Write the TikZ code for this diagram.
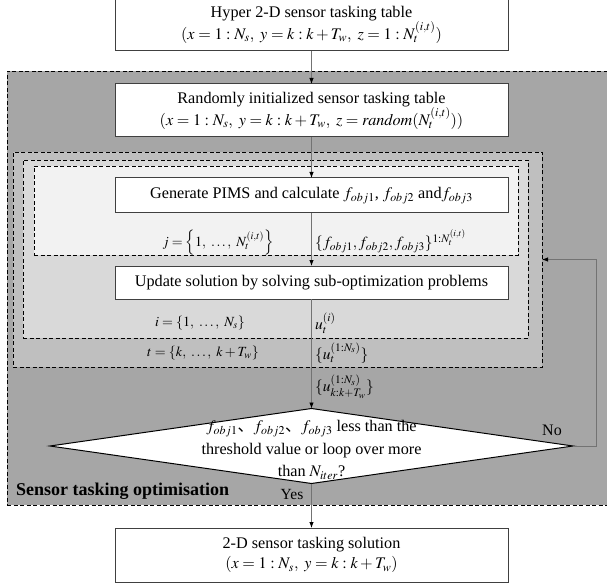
\documentclass[tikz,border=0pt]{standalone}
\usepackage{mathptmx}
\usepackage[no-math]{fontspec}
\setmainfont{Liberation Serif}
\newfontfamily\cjk{Noto Sans CJK SC}
\usetikzlibrary{arrows.meta,shapes.geometric}
\begin{document}
\begin{tikzpicture}[x=1pt,y=-1pt,
  box/.style={draw=black!75, line width=1pt, fill=white, inner sep=0pt, outer sep=0pt,
    align=center, minimum width=393pt, font=\fontsize{16.2}{20}\selectfont},
  region/.style={draw=black, dashed, dash pattern=on 4pt off 2.5pt, line width=0.9pt, inner sep=0pt, outer sep=0pt},
  conn/.style={draw=black!55, line width=0.9pt, -{Latex[length=6pt,width=4.5pt,color=black]}},
  lbl/.style={font=\fontsize{14}{17}\selectfont, inner sep=0pt},
  rlbl/.style={font=\fontsize{15.5}{18}\selectfont, inner sep=0pt, anchor=west},
  dia/.style={diamond, draw=black, line width=1pt, fill=white, inner sep=0pt, outer sep=0pt,
    minimum width=523pt, minimum height=75pt}
]
\useasboundingbox (0,0) rectangle (607,585);
% regions
\node[region, fill=black!35, minimum width=613pt, minimum height=434pt] (outer) at (313.5,288) {};
\node[region, fill=black!25, minimum width=529pt, minimum height=215pt] (tR) at (277.5,259.5) {};
\node[region, fill=black!15, minimum width=505pt, minimum height=178pt] (iR) at (275.5,249) {};
\node[region, fill=black!5, minimum width=484pt, minimum height=89pt] (jR) at (276,210.5) {};
% boxes
\node[box, minimum height=53pt] (hyper) at (311.5,24.5) {Hyper 2-D sensor tasking table\\ $(x=1:N_s,\ y=k:k+T_w,\ z=1:N_t^{(i,t)})$};
\node[box, minimum height=53pt] (rand) at (311.5,110.5) {Randomly initialized sensor tasking table\\ $(x=1:N_s,\ y=k:k+T_w,\ z=\mathit{random}(N_t^{(i,t)}))$};
\node[box, minimum height=35pt] (gen) at (311.5,195.5) {Generate PIMS and calculate $f_{obj1}$, $f_{obj2}$ and$f_{obj3}$};
\node[box, minimum height=33pt] (upd) at (311.5,282.5) {Update solution by solving sub-optimization problems};
\node[dia] (dec) at (311.5,446) {};
\node[align=center, inner sep=0pt, font=\fontsize{16.2}{22.5}\selectfont] (dectext) at (311.5,450) {$f_{obj1}${\cjk 、}$f_{obj2}${\cjk 、}$f_{obj3}$ less than the\\ threshold value or loop over more\\ than $N_{iter}$?};
\node[box, minimum height=54pt] (sol) at (311.5,555) {2-D sensor tasking solution\\ $(x=1:N_s,\ y=k:k+T_w)$};
% labels
\node[lbl] (jl) at (218,243) {$j=\left\{1,\ \ldots,\ N_t^{(i,t)}\right\}$};
\node[rlbl] (fl) at (315,241) {$\{f_{obj1},f_{obj2},f_{obj3}\}^{1:N_t^{(i,t)}}$};
\node[lbl] (il) at (200,323) {$i=\left\{1,\ \ldots,\ N_s\right\}$};
\node[rlbl] (ul) at (315,323) {$u_t^{(i)}$};
\node[lbl] (tl) at (203,353) {$t=\left\{k,\ \ldots,\ k+T_w\right\}$};
\node[rlbl] (utl) at (315,353) {$\{u_t^{(1:N_s)}\}$};
\node[rlbl] (ukl) at (315,387) {$\{u_{k:k+T_w}^{(1:N_s)}\}$};
\node[lbl, font=\fontsize{16}{18}\selectfont] (no) at (552,430) {No};
\node[lbl, font=\fontsize{15.5}{18}\selectfont] (yes) at (292,494) {Yes};
\node[anchor=west, inner sep=0pt, font=\bfseries\fontsize{18}{20}\selectfont] (stitle) at (16,491) {Sensor tasking optimisation};
% connectors
\draw[conn] (hyper) -- (rand);
\draw[conn] (rand) -- (gen);
\draw[conn] (gen) -- (upd);
\draw[conn] (upd) -- (dec);
\draw[conn] (dec) -- (sol);
\coordinate (fb) at (596,446);
\draw[conn] (dec.east) -- (fb) |- (tR.east);
\end{tikzpicture}
\end{document}
